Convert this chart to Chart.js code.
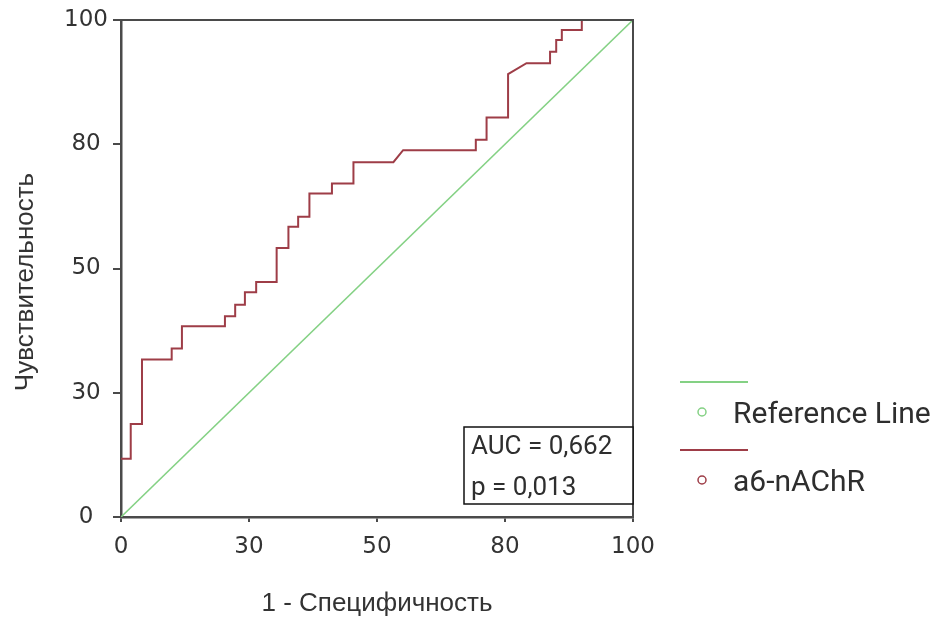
<!DOCTYPE html>
<html>
<head>
<meta charset="utf-8">
<script src="https://cdn.jsdelivr.net/npm/chart.js@4.4.1/dist/chart.umd.min.js"></script>
<style>
  html, body { margin: 0; padding: 0; background: #fff; }
  #wrap { width: 952px; height: 621px; }
</style>
</head>
<body>
<div id="wrap"><canvas id="roc" width="952" height="621"></canvas></div>
<script>
// tick labels as printed on the original axes (evenly spaced)
const xTickLabels = ['0', '30', '50', '80', '100'];
const yTickLabels = ['0', '30', '50', '80', '100'];

// reference diagonal
const refX = [0, 100];
const refY = [0, 100];

// ROC curve vertices (axis position units 0..100)
const rocX = [0, 1.9, 1.9, 4.1, 4.1, 9.9, 9.9, 11.9, 11.9, 20.3, 20.3, 22.3, 22.3, 24.2, 24.2, 26.4, 26.4,
  30.4, 30.4, 32.7, 32.7, 34.6, 34.6, 36.8, 36.8, 41.2, 41.2, 45.4, 45.4, 53.2, 55.1, 69.3, 69.3,
  71.4, 71.4, 75.6, 75.6, 79.2, 83.8, 83.8, 85.0, 85.0, 86.1, 86.1, 90.0, 90.0, 100];
const rocY = [11.7, 11.7, 18.7, 18.7, 31.7, 31.7, 33.9, 33.9, 38.4, 38.4, 40.4, 40.4, 42.7, 42.7, 45.2, 45.2, 47.3,
  47.3, 54.1, 54.1, 58.4, 58.4, 60.4, 60.4, 65.1, 65.1, 67.1, 67.1, 71.4, 71.4, 73.8, 73.8, 75.9,
  75.9, 80.4, 80.4, 89.1, 91.3, 91.3, 93.6, 93.6, 96.0, 96.0, 98.0, 98.0, 100, 100];

const seriesNames = ['Reference Line', 'a6-nAChR'];
const statLines = ['AUC = 0,662', 'p = 0,013'];

const yTitle = 'Чувствительность';
const xTitle = '1 - Специфичность';

const greenCol = '#84d184';
const redCol = '#9e3d47';
const axisCol = '#4a4a4a';
const textCol = '#333333';

const sideFont = '"Roboto", "DejaVu Sans", sans-serif';
const narrowFont = '"Liberation Sans Narrow", "Arial Narrow", "Liberation Sans", sans-serif';

// legend, stats box, y title and the top/right frame
const extras = {
    id: 'extras',
    afterDraw(chart) {
        const ctx = chart.ctx;
        const area = chart.chartArea;
        ctx.save();

        // frame on top and right
        ctx.strokeStyle = axisCol;
        ctx.lineWidth = 2;
        ctx.beginPath();
        ctx.moveTo(area.left, area.top);
        ctx.lineTo(area.right, area.top);
        ctx.lineTo(area.right, area.bottom);
        ctx.stroke();

        // AUC box
        const bw = 169, bh = 77;
        const bx = area.right - bw, by = area.bottom - 13 - bh;
        ctx.fillStyle = '#fff';
        ctx.fillRect(bx, by, bw, bh);
        ctx.strokeStyle = '#111';
        ctx.lineWidth = 1.5;
        ctx.strokeRect(bx, by, bw, bh);
        ctx.fillStyle = '#2e2e2e';
        ctx.font = '26px ' + sideFont;
        ctx.textBaseline = 'alphabetic';
        ctx.textAlign = 'left';
        ctx.fillText(statLines[0], bx + 7, by + 27);
        ctx.fillText(statLines[1], bx + 7, by + 68);

        // legend
        const colors = [greenCol, redCol];
        seriesNames.forEach((name, i) => {
            const y0 = 382 + i * 68;
            ctx.strokeStyle = colors[i];
            ctx.lineWidth = 2;
            ctx.beginPath();
            ctx.moveTo(680, y0);
            ctx.lineTo(748, y0);
            ctx.stroke();
            ctx.lineWidth = 1.5;
            ctx.beginPath();
            ctx.arc(702, y0 + 30, 4, 0, Math.PI * 2);
            ctx.stroke();
            ctx.fillStyle = '#2e2e2e';
            ctx.font = '30px ' + sideFont;
            ctx.fillText(name, 733, y0 + 41);
        });

        // y axis title
        ctx.translate(26, 282);
        ctx.rotate(-Math.PI / 2);
        ctx.font = '26px ' + narrowFont;
        ctx.textAlign = 'center';
        ctx.textBaseline = 'middle';
        ctx.fillStyle = textCol;
        ctx.fillText(yTitle, 0, 0);
        ctx.restore();
    }
};

const ctx = document.getElementById('roc').getContext('2d');
const rocChart = new Chart(ctx, {
    type: 'line',
    data: {
        datasets: [
            {
                label: seriesNames[0],
                data: refX.map((x, i) => ({ x: x, y: refY[i] })),
                borderColor: greenCol,
                borderWidth: 1.6,
                pointRadius: 0,
                tension: 0,
                order: 1,
            },
            {
                label: seriesNames[1],
                data: rocX.map((x, i) => ({ x: x, y: rocY[i] })),
                borderColor: redCol,
                borderWidth: 2,
                pointRadius: 0,
                tension: 0,
                order: 0,
            },
        ],
    },
    options: {
        responsive: false,
        animation: false,
        devicePixelRatio: 1,
        layout: { padding: { left: 0, right: 319, top: 20, bottom: 0 } },
        plugins: {
            legend: { display: false },
            tooltip: { enabled: false },
        },
        scales: {
            x: {
                type: 'linear',
                min: 0,
                max: 100,
                afterFit: (s) => { s.height = 104; },
                border: { display: true, color: axisCol, width: 2.5 },
                grid: { drawOnChartArea: false, drawTicks: true, tickLength: 5, color: axisCol, lineWidth: 2 },
                ticks: {
                    stepSize: 25,
                    padding: 11,
                    color: textCol,
                    font: { family: 'DejaVu Sans', size: 23 },
                    callback: (v, i) => xTickLabels[i],
                },
                title: {
                    display: true,
                    text: xTitle,
                    color: textCol,
                    font: { family: narrowFont, size: 26 },
                    padding: { top: 0, bottom: 2 },
                },
            },
            y: {
                type: 'linear',
                min: 0,
                max: 100,
                afterFit: (s) => { s.width = 121; },
                border: { display: true, color: axisCol, width: 2.5 },
                grid: { drawOnChartArea: false, drawTicks: true, tickLength: 8, color: axisCol, lineWidth: 2 },
                ticks: {
                    stepSize: 25,
                    padding: 5,
                    crossAlign: 'center',
                    color: textCol,
                    font: { family: 'DejaVu Sans', size: 23 },
                    callback: (v, i) => yTickLabels[i],
                },
            },
        },
    },
    plugins: [extras],
});
</script>
</body>
</html>
